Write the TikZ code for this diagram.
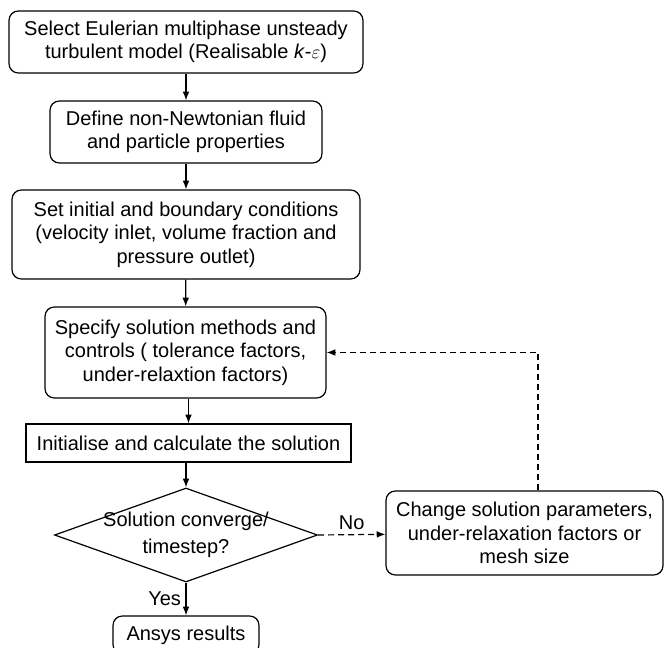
\documentclass[tikz,border=0pt]{standalone}
\usepackage{fontspec}
\setmainfont{Liberation Sans}
\usepackage{tikz}
\usetikzlibrary{shapes.geometric,arrows.meta,positioning}

\begin{document}
\begin{tikzpicture}[x=0.75pt, y=-0.75pt, >={Latex[length=6.5pt,width=5pt]},
  box/.style={draw, rounded corners=7pt, line width=0.9pt, align=center, inner sep=0pt, font=\fontsize{15}{17.5}\selectfont},
  plainbox/.style={box, sharp corners},
  flow/.style={->, line width=0.9pt},
  loopflow/.style={flow, dash pattern=on 4.5pt off 3pt}]
  \useasboundingbox (0,0) rectangle (664,648);
  \clip (0,0) rectangle (664,648);

  \node[box, minimum width=265.5pt, minimum height=46.5pt] (select) at (186,42) {Select Eulerian multiphase unsteady\\turbulent model (Realisable \textit{k}-$\varepsilon$)};
  \node[box, minimum width=204pt, minimum height=46.5pt] (define) at (186,132) {Define non-Newtonian fluid\\and particle properties};
  \node[box, minimum width=261pt, minimum height=66.75pt] (bound) at (186,234.5) {Set initial and boundary conditions\\(velocity inlet, volume fraction and\\pressure outlet)};
  \node[box, minimum width=210.75pt, minimum height=68.25pt] (solver) at (185.5,352.5) {Specify solution methods and\\controls ( tolerance factors,\\under-relaxtion factors)};
  \node[plainbox, minimum width=243.75pt, minimum height=28.5pt] (init) at (188.5,443) {Initialise and calculate the solution};
  \node[draw, diamond, line width=0.9pt, minimum width=197.25pt, minimum height=70.5pt] (conv) at (186,535) {};
  \node[align=center, font=\fontsize{15}{20}\selectfont] (convtext) at (conv) {Solution converge/\\timestep?};
  \node[box, minimum width=109.5pt, minimum height=28.5pt] (results) at (186,635) {Ansys results};
  \node[box, minimum width=207.75pt, minimum height=63pt] (change) at (524.5,533) {Change solution parameters,\\under-relaxation factors or\\mesh size};
  \coordinate (turn) at (538,352.5);

  \draw[flow] (select) -- (define);
  \draw[flow] (define) -- (bound);
  \draw[flow] (bound) -- (solver);
  \draw[flow] (solver.south -| init) -- (init);
  \draw[flow] (init.south -| conv) -- (conv.north);
  \draw[flow] (conv.south) -- node[left, font=\fontsize{15}{17.5}\selectfont] {Yes} (results);
  \draw[loopflow] (conv.east) -- node[above, font=\fontsize{15}{17.5}\selectfont] {No} (change);
  \draw[loopflow] (turn |- change.north) -- (turn) -- (solver.east);
\end{tikzpicture}
\end{document}
